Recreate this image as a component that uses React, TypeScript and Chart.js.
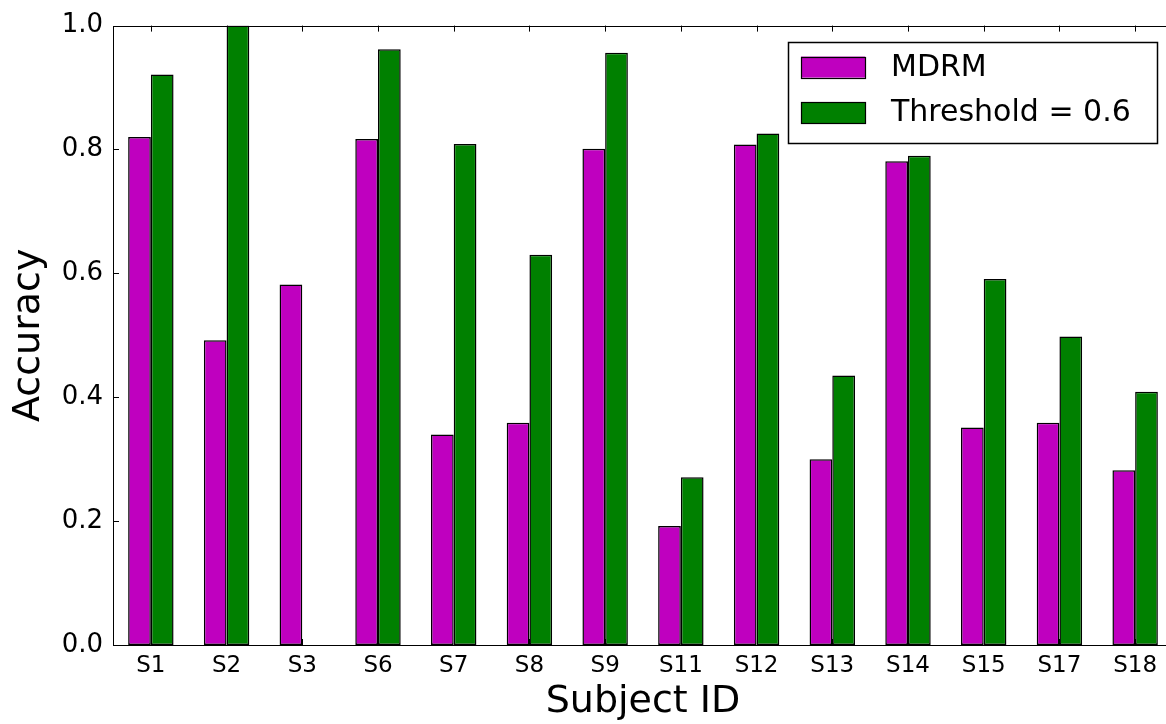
import React, { useEffect, useRef } from "react";
import { Chart, registerables } from "chart.js";

Chart.register(...registerables);

// ---- data ----
const subjects = ["S1", "S2", "S3", "S6", "S7", "S8", "S9", "S11", "S12", "S13", "S14", "S15", "S17", "S18"];
const mdrmValues = [0.82, 0.492, 0.582, 0.817, 0.34, 0.359, 0.801, 0.192, 0.808, 0.3, 0.781, 0.351, 0.359, 0.282];
const thresholdValues = [0.921, 1.0, null, 0.962, 0.809, 0.63, 0.956, 0.271, 0.826, 0.435, 0.79, 0.591, 0.498, 0.409];
const seriesNames = ["MDRM", "Threshold = 0.6"];
const yTickValues = [0, 0.2, 0.4, 0.6, 0.8, 1.0];
const xTitle = "Subject ID";
const yTitle = "Accuracy";

const FONT = "'DejaVu Sans', 'Bitstream Vera Sans', sans-serif";
const COLORS = ["#bf00bf", "#008000"];

const framePlugin = {
  id: "mplFrame",
  afterDatasetsDraw(chart: any) {
    const { ctx, chartArea, scales } = chart;
    const { left, right, top, bottom } = chartArea;
    const x = scales.x;
    const y = scales.y;
    const tl = 6;
    ctx.save();
    ctx.strokeStyle = "#000";
    ctx.lineWidth = 1;
    ctx.beginPath();
    x.ticks.forEach((_: any, i: number) => {
      const px = Math.round(x.getPixelForTick(i)) + 0.5;
      ctx.moveTo(px, top);
      ctx.lineTo(px, top + tl);
      ctx.moveTo(px, bottom);
      ctx.lineTo(px, bottom - tl);
    });
    y.ticks.forEach((_: any, i: number) => {
      const py = Math.round(y.getPixelForTick(i)) + 0.5;
      ctx.moveTo(left, py);
      ctx.lineTo(left + tl, py);
      ctx.moveTo(right, py);
      ctx.lineTo(right - tl, py);
    });
    ctx.stroke();
    const l = Math.round(left) + 0.5;
    const t = Math.round(top) + 0.5;
    ctx.strokeRect(l, t, Math.round(right) - Math.round(left), Math.round(bottom) - Math.round(top));
    ctx.restore();
  },
};

const legendPlugin = {
  id: "boxLegend",
  afterDraw(chart: any) {
    const { ctx, chartArea } = chart;
    const datasets = chart.data.datasets;
    const boxRight = chartArea.right - 16;
    const boxTop = chartArea.top + 16;
    const boxW = 369;
    const boxH = 101;
    const boxLeft = boxRight - boxW;
    ctx.save();
    ctx.fillStyle = "#fff";
    ctx.fillRect(boxLeft, boxTop, boxW, boxH);
    ctx.strokeStyle = "#000";
    ctx.lineWidth = 1.5;
    ctx.strokeRect(Math.round(boxLeft) + 0.5, Math.round(boxTop) + 0.5, boxW, boxH);
    const rowCenters = [25.5, 71];
    ctx.font = `30px ${FONT}`;
    ctx.textBaseline = "middle";
    ctx.textAlign = "left";
    datasets.forEach((ds: any, i: number) => {
      const cy = boxTop + rowCenters[i];
      const px = boxLeft + 13;
      ctx.fillStyle = ds.backgroundColor;
      ctx.fillRect(px, cy - 10.5, 64, 21);
      ctx.strokeStyle = "#000";
      ctx.lineWidth = 1.2;
      ctx.strokeRect(Math.round(px) + 0.5, Math.round(cy - 10.5) + 0.5, 64, 21);
      ctx.fillStyle = "#000";
      ctx.fillText(ds.label, boxLeft + 103, cy + 1);
    });
    ctx.restore();
  },
};

export default function App() {
  const ref = useRef<HTMLCanvasElement | null>(null);

  useEffect(() => {
    if (!ref.current) return;
    const chart = new Chart(ref.current, {
      type: "bar",
      data: {
        labels: subjects,
        datasets: [
          {
            label: seriesNames[0],
            data: mdrmValues,
            backgroundColor: COLORS[0],
            borderColor: "#000",
            borderWidth: 1.5,
            borderSkipped: false,
            categoryPercentage: 0.6,
            barPercentage: 1.0,
          },
          {
            label: seriesNames[1],
            data: thresholdValues as any,
            backgroundColor: COLORS[1],
            borderColor: "#000",
            borderWidth: 1.5,
            borderSkipped: false,
            categoryPercentage: 0.6,
            barPercentage: 1.0,
          },
        ],
      },
      options: {
        responsive: false,
        animation: false,
        devicePixelRatio: 1,
        layout: { padding: { top: 25, right: 7, bottom: 0, left: 0 } },
        plugins: {
          legend: { display: false },
          tooltip: { enabled: false },
        },
        scales: {
          x: {
            type: "category",
            offset: true,
            grid: { display: false, drawTicks: false, offset: false },
            border: { display: false },
            ticks: {
              color: "#000",
              font: { family: FONT, size: 23 },
              padding: 7,
              maxRotation: 0,
              autoSkip: false,
            },
            title: {
              display: true,
              text: xTitle,
              color: "#000",
              font: { family: FONT, size: 38, lineHeight: 1 },
              padding: { top: 0, bottom: 3 },
            },
            afterFit: (axis: any) => {
              axis.height = 79;
            },
          },
          y: {
            min: 0,
            max: 1,
            grid: { display: false, drawTicks: false },
            border: { display: false },
            afterBuildTicks: (axis: any) => {
              axis.ticks = yTickValues.map((v) => ({ value: v }));
            },
            ticks: {
              color: "#000",
              font: { family: FONT, size: 26 },
              padding: 10,
              callback: (v: any) => Number(v).toFixed(1),
            },
            title: {
              display: true,
              text: yTitle,
              color: "#000",
              font: { family: FONT, size: 38, lineHeight: 1 },
              padding: { top: 10, bottom: 0 },
            },
            afterFit: (axis: any) => {
              axis.width = 113;
            },
          },
        },
      },
      plugins: [framePlugin, legendPlugin],
    });
    return () => chart.destroy();
  }, []);

  return (
    <div
      style={{
        position: "fixed",
        left: 0,
        top: 0,
        width: 1166,
        height: 724,
        overflow: "hidden",
        background: "#fff",
      }}
    >
      <canvas ref={ref} width={1180} height={724} style={{ display: "block", width: 1180, height: 724 }} />
    </div>
  );
}
